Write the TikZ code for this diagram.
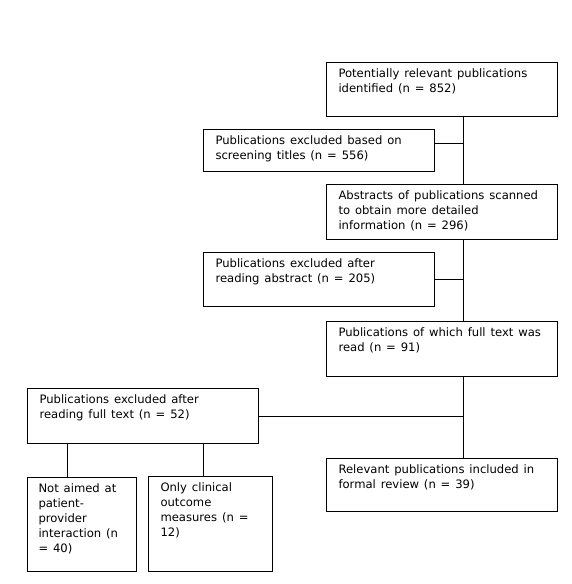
\documentclass[tikz,border=0pt]{standalone}
\usepackage{fontspec}
\setmainfont{DejaVu Sans}
\begin{document}
\begin{tikzpicture}[x=1pt,y=-1pt,
  box/.style={draw, line width=1pt, anchor=north west, inner xsep=12pt, inner ysep=0pt, align=left, font=\fontsize{11.6}{15}\selectfont},
  link/.style={line width=1pt}]
\useasboundingbox (0,0) rectangle (572,584);
\newcommand{\boxtext}[3]{\parbox[c][#2pt][t]{#1pt}{\raggedright\spaceskip=0.42em\relax\vspace*{6.5pt}#3}}
\node[box] (b1) at (326,62) {\boxtext{207}{54}{Potentially relevant publications\\identified (n = 852)}};
\node[box] (e1) at (203,129) {\boxtext{207}{42}{Publications excluded based on\\screening titles (n = 556)}};
\node[box] (b2) at (326,184) {\boxtext{207}{55}{Abstracts of publications scanned\\to obtain more detailed\\information (n = 296)}};
\node[box] (e2) at (203,252) {\boxtext{207}{54}{Publications excluded after\\reading abstract (n = 205)}};
\node[box] (b3) at (326,321) {\boxtext{207}{55}{Publications of which full text was\\read (n = 91)}};
\node[box] (e3) at (27,388) {\boxtext{207}{55}{Publications excluded after\\reading full text (n = 52)}};
\node[box] (b4) at (326,458) {\boxtext{207}{53}{Relevant publications included in\\formal review (n = 39)}};
\node[box, inner xsep=11pt] (s1) at (27,477) {\boxtext{87}{94}{Not aimed at\\patient-\\provider\\interaction (n\\= 40)}};
\node[box, inner xsep=12pt] (s2) at (148,476) {\boxtext{100}{95}{Only clinical\\outcome\\measures (n =\\12)}};
\coordinate (t) at (463,0);
\coordinate (la) at (67,0);
\coordinate (lb) at (203,0);
\draw[link] (b1.south -| t) -- (b2.north -| t);
\draw[link] (b2.south -| t) -- (b3.north -| t);
\draw[link] (b3.south -| t) -- (b4.north -| t);
\draw[link] ([yshift=-14pt]e1.north east) -- ([yshift=-14pt]e1.north east -| t);
\draw[link] (e2.east) -- (e2.east -| t);
\draw[link] (e3.east) -- (e3.east -| t);
\draw[link] (e3.south -| la) -- (s1.north -| la);
\draw[link] (e3.south -| lb) -- (s2.north -| lb);
\end{tikzpicture}
\end{document}
